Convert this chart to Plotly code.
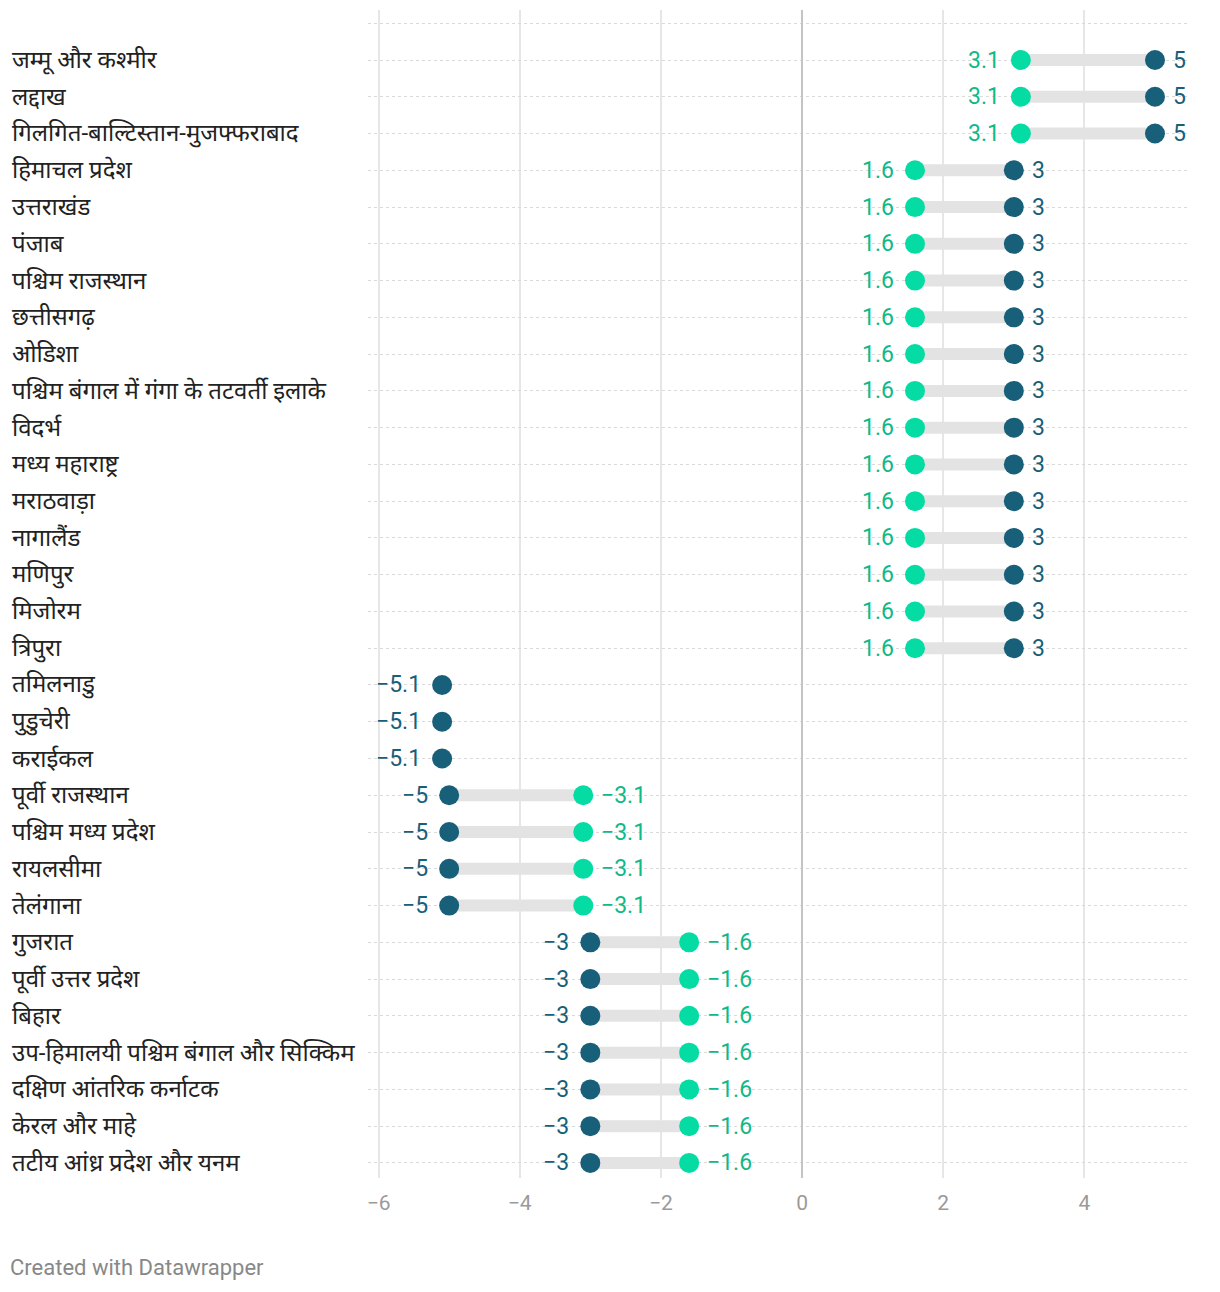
import plotly.graph_objects as go

regions = [
    "जम्मू और कश्मीर", "लद्दाख", "गिलगित-बाल्टिस्तान-मुजफ्फराबाद", "हिमाचल प्रदेश",
    "उत्तराखंड", "पंजाब", "पश्चिम राजस्थान", "छत्तीसगढ़", "ओडिशा",
    "पश्चिम बंगाल में गंगा के तटवर्ती इलाके", "विदर्भ", "मध्य महाराष्ट्र", "मराठवाड़ा",
    "नागालैंड", "मणिपुर", "मिजोरम", "त्रिपुरा", "तमिलनाडु", "पुडुचेरी", "कराईकल",
    "पूर्वी राजस्थान", "पश्चिम मध्य प्रदेश", "रायलसीमा", "तेलंगाना", "गुजरात",
    "पूर्वी उत्तर प्रदेश", "बिहार", "उप-हिमालयी पश्चिम बंगाल और सिक्किम",
    "दक्षिण आंतरिक कर्नाटक", "केरल और माहे", "तटीय आंध्र प्रदेश और यनम",
]
dark_values = [5, 5, 5] + [3] * 14 + [-5.1, -5.1, -5.1] + [-5] * 4 + [-3] * 7
green_values = [3.1, 3.1, 3.1] + [1.6] * 14 + [None, None, None] + [-3.1] * 4 + [-1.6] * 7

x_ticks = [-6, -4, -2, 0, 2, 4]
x_tick_labels = ["−6", "−4", "−2", "0", "2", "4"]

DARK = "#185f7a"
GREEN = "#05dca3"
GREEN_TXT = "#10b98a"
BAR = "#e3e3e3"
FONT = "Roboto, 'Noto Sans Devanagari', 'Noto Sans', sans-serif"

rows = list(range(len(regions)))

def fmt(v):
    s = f"{v:g}"
    return s.replace("-", "−")

fig = go.Figure()

# range bars
bx, by = [], []
for i, (d, g) in enumerate(zip(dark_values, green_values)):
    if g is None:
        continue
    bx += [d, g, None]
    by += [i, i, None]
fig.add_trace(go.Scatter(x=bx, y=by, mode="lines",
                         line=dict(color=BAR, width=12), hoverinfo="skip",
                         showlegend=False))

gx = [g for g in green_values if g is not None]
gy = [i for i, g in enumerate(green_values) if g is not None]
fig.add_trace(go.Scatter(x=gx, y=gy, mode="markers",
                         marker=dict(color=GREEN, size=20, line=dict(width=0)),
                         showlegend=False))
fig.add_trace(go.Scatter(x=dark_values, y=rows, mode="markers",
                         marker=dict(color=DARK, size=20, line=dict(width=0)),
                         showlegend=False))

VS = 23
annotations = []
for i, (d, g) in enumerate(zip(dark_values, green_values)):
    pts = [(d, DARK)]
    if g is not None:
        pts.append((g, GREEN_TXT))
    if len(pts) == 1:
        v, c = pts[0]
        side = "left" if v < 0 else "right"
        annotations.append(dict(x=v, y=i, xref="x", yref="y", text=fmt(v),
                                showarrow=False, font=dict(color=c, size=VS, family=FONT),
                                xanchor="right" if side == "left" else "left",
                                xshift=-19 if side == "left" else 18))
    else:
        lo = min(pts, key=lambda p: p[0])
        hi = max(pts, key=lambda p: p[0])
        annotations.append(dict(x=lo[0], y=i, xref="x", yref="y", text=fmt(lo[0]),
                                showarrow=False, font=dict(color=lo[1], size=VS, family=FONT),
                                xanchor="right", xshift=-19))
        annotations.append(dict(x=hi[0], y=i, xref="x", yref="y", text=fmt(hi[0]),
                                showarrow=False, font=dict(color=hi[1], size=VS, family=FONT),
                                xanchor="left", xshift=16))

# category labels on the left
L, R = 368, 1190
pw = R - L
for i, name in enumerate(regions):
    annotations.append(dict(x=(10 - L) / pw, y=i, xref="paper", yref="y", text=name,
                            showarrow=False, xanchor="left",
                            font=dict(color="#222222", size=24, family=FONT)))

annotations.append(dict(x=(8 - L) / pw, y=-(1267 - 1178) / (1178 - 10), xref="paper", yref="paper",
                        text="Created with Datawrapper", showarrow=False, xanchor="left",
                        yanchor="middle", font=dict(color="#888888", size=22, family=FONT)))

fig.update_layout(
    width=1220, height=1292,
    margin=dict(l=L, r=1220 - R, t=10, b=1292 - 1178, pad=0),
    plot_bgcolor="white", paper_bgcolor="white",
    font=dict(family=FONT),
    annotations=annotations,
    xaxis=dict(range=[-6.15, 5.496], tickvals=x_ticks, ticktext=x_tick_labels,
               showgrid=True, gridcolor="#e6e6e6", gridwidth=1.5,
               zeroline=True, zerolinecolor="#c4c4c4", zerolinewidth=2,
               ticks="outside", ticklen=6, tickcolor="rgba(0,0,0,0)",
               tickfont=dict(color="#9a9a9a", size=21, family=FONT),
               showline=False, fixedrange=True),
    yaxis=dict(range=[30.41, -1.36], tickvals=list(range(-1, len(regions))),
               showticklabels=False, showgrid=True, gridcolor="#dadada",
               gridwidth=1, griddash="dot", zeroline=False, showline=False,
               fixedrange=True),
)

fig.write_html("out.html")
